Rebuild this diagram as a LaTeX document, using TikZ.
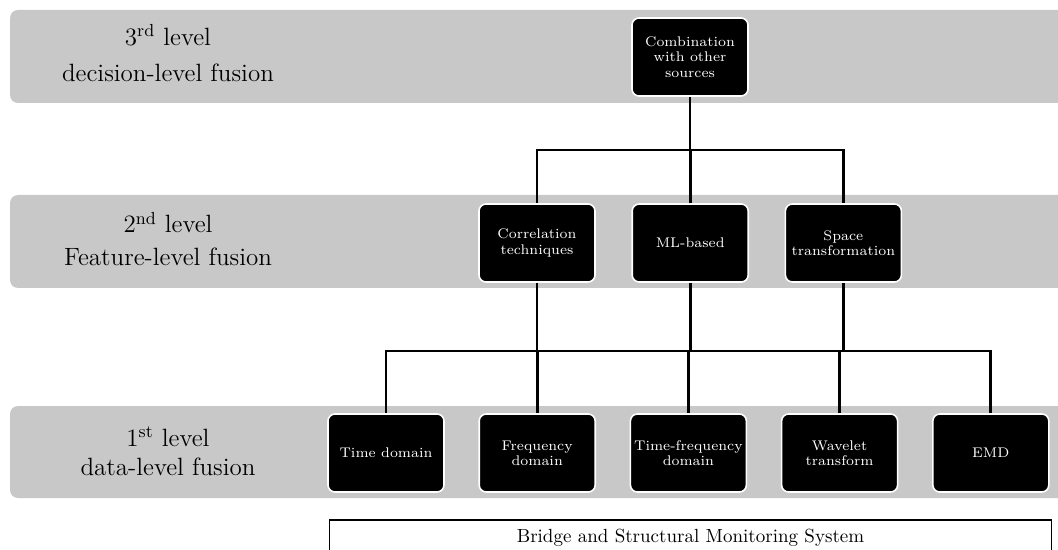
\documentclass[tikz,border=0pt]{standalone}
\usepackage{tikz}
\usetikzlibrary{positioning}
\definecolor{bandgray}{RGB}{200,200,200}
\tikzstyle{band} = [fill=bandgray, rounded corners=4pt]
\tikzstyle{block} = [rectangle, draw=white, line width=0.8pt, fill=black, rounded corners=3.5pt, text=white, align=center, font=\fontsize{7}{7.6}\selectfont, minimum width=58pt, minimum height=39pt, inner sep=1pt]
\tikzstyle{levellabel} = [align=center]
\tikzstyle{line} = [draw, line width=1.4pt]

\begin{document}
\begin{tikzpicture}[x=0.5pt, y=-0.5pt, node distance=17.3pt]
    \clip (0,0) rectangle (1058,550);
    \fill [band] (10,10) rectangle (1080,103);
    \fill [band] (10,195) rectangle (1080,288);
    \fill [band] (10,406) rectangle (1080,498);

    \node (lvl3) [levellabel, font=\fontsize{12.5}{18}\selectfont] at (168,53) {3\textsuperscript{rd} level\\decision-level fusion};
    \node (lvl2) [levellabel, font=\fontsize{12.5}{16.5}\selectfont] at (168,239) {2\textsuperscript{nd} level\\Feature-level fusion};
    \node (lvl1) [levellabel, font=\fontsize{12.5}{14.5}\selectfont] at (168,451) {1\textsuperscript{st} level\\data-level fusion};

    \node (comb) [block] at (690,57) {Combination\\with other\\sources};

    \node (corr) [block] at (537,243) {Correlation\\techniques};
    \node (ml) [block, right=17.8pt of corr] {ML-based};
    \node (space) [block, right=17.8pt of ml] {Space\\transformation};

    \node (time) [block] at (386,453) {Time domain};
    \node (freq) [block, right=16.8pt of time] {Frequency\\domain};
    \node (tfreq) [block, right=16.8pt of freq] {Time-frequency\\domain};
    \node (wave) [block, right=16.8pt of tfreq] {Wavelet\\transform};
    \node (emd) [block, right=16.8pt of wave] {EMD};

    \node (bsms) [draw, line width=0.65pt, minimum width=361pt, minimum height=18pt, font=\fontsize{9.5}{11}\selectfont] at (690.5,538) {Bridge and Structural Monitoring System};

    \coordinate (upper) at (0,150);
    \coordinate (lower) at (0,351);

    \path [line] (comb.south) -- (comb.south |- upper);
    \path [line] (corr.north) |- (space.north |- upper) -- (space.north);
    \path [line] (ml.north) -- (ml.north |- upper);

    \path [line] (corr.south) -- (corr.south |- lower);
    \path [line] (ml.south) -- (ml.south |- lower);
    \path [line] (space.south) -- (space.south |- lower);
    \path [line] (time.north) |- (emd.north |- lower) -- (emd.north);
    \path [line] (freq.north) -- (freq.north |- lower);
    \path [line] (tfreq.north) -- (tfreq.north |- lower);
    \path [line] (wave.north) -- (wave.north |- lower);

\end{tikzpicture}
\end{document}
